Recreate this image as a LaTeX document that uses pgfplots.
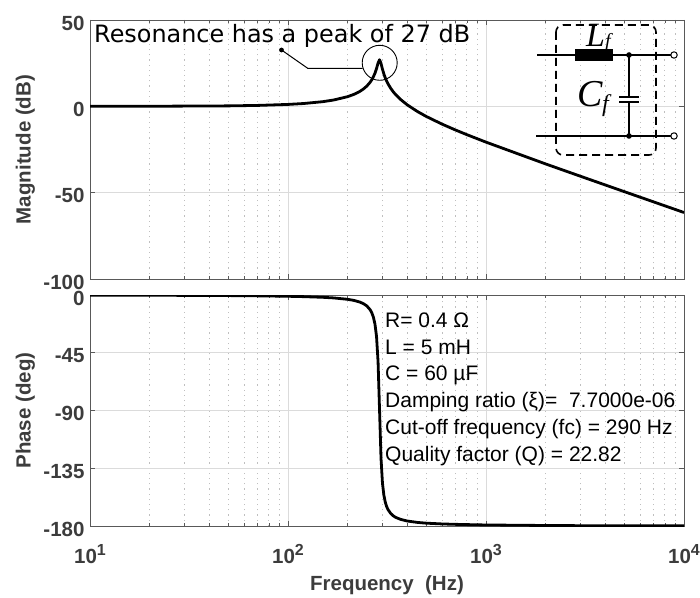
\documentclass[border=0pt]{standalone}
\usepackage{fontspec}
\setmainfont{Liberation Sans}
\newfontfamily\notefont{DejaVu Sans}
\newfontfamily\symfont{Liberation Serif}
\usepackage{pgfplots}
\usepackage{pgfplotstable}
\pgfplotsset{compat=1.18}

% f, magnitude (dB), phase (deg) for the LC filter
\pgfplotstableread{
f mag phase
10 0.01 -0.09
20 0.04 -0.18
50 0.26 -0.45
70 0.52 -0.66
100 1.10 -1.0
120 1.63 -1.28
150 2.70 -1.8
170 3.66 -2.28
200 5.59 -3.36
215 6.91 -4.2
230 8.57 -5.45
240 9.97 -6.69
250 11.71 -8.52
260 13.97 -11.5
265 15.39 -13.9
270 17.11 -17.3
275 19.23 -22.8
280 21.90 -32.4
285 25.10 -52.1
290 27.00 -90
295 24.85 -127.5
300 21.50 -146.7
305 18.71 -156.1
310 16.45 -161.5
315 14.60 -164.9
320 13.03 -167.2
330 10.48 -170.2
340 8.44 -172.05
350 6.75 -173.3
370 4.01 -174.8
400 0.87 -176.1
450 -2.97 -177.2
500 -5.91 -177.8
600 -10.32 -178.4
700 -13.67 -178.7
800 -16.40 -178.9
1000 -20.74 -179.2
2000 -33.36 -179.6
3000 -40.50 -179.75
5000 -49.43 -179.85
10000 -61.50 -179.9
}\bode

\definecolor{axgray}{HTML}{595959}
\definecolor{labgray}{HTML}{3C3C3C}
\newcommand{\labfont}{\fontsize{20.5}{22}\selectfont\bfseries}
\newcommand{\dec}[1]{10\raisebox{8pt}{\fontsize{16}{16}\selectfont #1}}

\begin{document}
\begin{tikzpicture}[x=1pt,y=1pt]
\path[use as bounding box] (0,0) rectangle (700,597);

\begin{semilogxaxis}[at={(90pt,318pt)}, anchor=south west, scale only axis, width=594pt, height=259pt,
  xmin=10, xmax=10000,
  axis line style={axgray, line width=0.9pt},
  tick style={axgray, line width=0.6pt},
  major tick length=5pt, minor tick length=3pt,
  tick align=inside,
  grid=both,
  major grid style={gray!28, line width=0.8pt},
  minor grid style={gray!50, line width=0.7pt, dash pattern=on 1.2pt off 4pt},
  tick label style={font=\labfont, text=labgray},
  yticklabel style={yshift=-3pt, xshift=-2pt},
  every axis y label/.style={at={(axis description cs:-0.109,0.5)}, rotate=90, anchor=center, font=\labfont, text=labgray},
  ymin=-100, ymax=50, ytick={-100,-50,0,50}, yticklabels={-100,-50,0,50},
  xticklabels={}, ylabel={Magnitude (dB)}]
  \addplot[black, line width=2.8pt, line join=round] table[x=f, y=mag] {\bode};
\end{semilogxaxis}

\begin{semilogxaxis}[at={(90pt,71pt)}, anchor=south west, scale only axis, width=594pt, height=231pt,
  xmin=10, xmax=10000,
  axis line style={axgray, line width=0.9pt},
  tick style={axgray, line width=0.6pt},
  major tick length=5pt, minor tick length=3pt,
  tick align=inside,
  grid=both,
  major grid style={gray!28, line width=0.8pt},
  minor grid style={gray!50, line width=0.7pt, dash pattern=on 1.2pt off 4pt},
  tick label style={font=\labfont, text=labgray},
  yticklabel style={yshift=-3pt, xshift=-2pt},
  every axis y label/.style={at={(axis description cs:-0.109,0.5)}, rotate=90, anchor=center, font=\labfont, text=labgray},
  ymin=-180, ymax=0, ytick={-180,-135,-90,-45,0}, yticklabels={-180,-135,-90,-45,0},
  xtick={10,100,1000,10000},
  xticklabels={\dec{1},\dec{2},\dec{3},\dec{4}},
  xlabel={Frequency\ \ (Hz)},
  every axis x label/.style={at={(axis description cs:0.5,0)}, yshift=-64pt, anchor=base, font=\labfont, text=labgray},
  xticklabel style={yshift=-15pt},
  ylabel={Phase (deg)}]
  \addplot[black, line width=2.8pt, line join=round] table[x=f, y=phase] {\bode};
\end{semilogxaxis}

% peak note
\node[anchor=base west, inner sep=0, font=\notefont\fontsize{23.9}{26}\selectfont] at (94,554) {Resonance has a peak of 27 dB};
\draw[black, line width=0.9pt] (379.7,534.2) circle (17.5);
\draw[black, line width=1pt] (281.5,547) -- (307.7,528.7) -- (362.5,528.7);
\fill[black] (281.5,547) circle (2.4);

% parameters
\begin{scope}[every node/.style={anchor=base west, inner sep=0, font=\fontsize{21}{23}\selectfont}]
\node at (385,269.5) {R= 0.4 Ω};
\node at (385,242.5) {L = 5 mH};
\node at (385,216.5) {C = 60 µF};
\node at (385,189.5) {Damping ratio (ξ)=\ \ 7.7000e-06};
\node at (385,162.5) {Cut-off frequency (fc) = 290 Hz};
\node at (385,135.5) {Quality factor (Q) = 22.82};
\end{scope}

% LC inset
\draw[black, line width=1.6pt, dash pattern=on 8pt off 5pt, rounded corners=7pt] (556,572) rectangle (656,442);
\draw[black, line width=1.1pt] (537,542) -- (671,542);
\draw[black, line width=1.1pt] (536,461) -- (671,461);
\draw[black, line width=1.1pt] (629,542) -- (629,500) (629,495) -- (629,461);
\fill[black] (575,536) rectangle (613,548);
\draw[black, line width=1.1pt] (619,500) -- (639,500) (619,495) -- (639,495);
\fill[black] (629,542) circle (2.8) (629,461) circle (2.8);
\draw[black, line width=1pt, fill=white] (674,542) circle (3.2) (674,461) circle (3.2);
\node[anchor=base west, inner sep=0, font=\symfont\itshape\fontsize{34}{36}\selectfont] at (586,550) {L};
\node[anchor=base west, inner sep=0, font=\symfont\itshape\fontsize{20}{22}\selectfont] at (605,549) {f};
\node[anchor=base west, inner sep=0, font=\symfont\itshape\fontsize{38}{40}\selectfont] at (577,490) {C};
\node[anchor=base west, inner sep=0, font=\symfont\itshape\fontsize{24}{26}\selectfont] at (602,485) {f};
\end{tikzpicture}
\end{document}
